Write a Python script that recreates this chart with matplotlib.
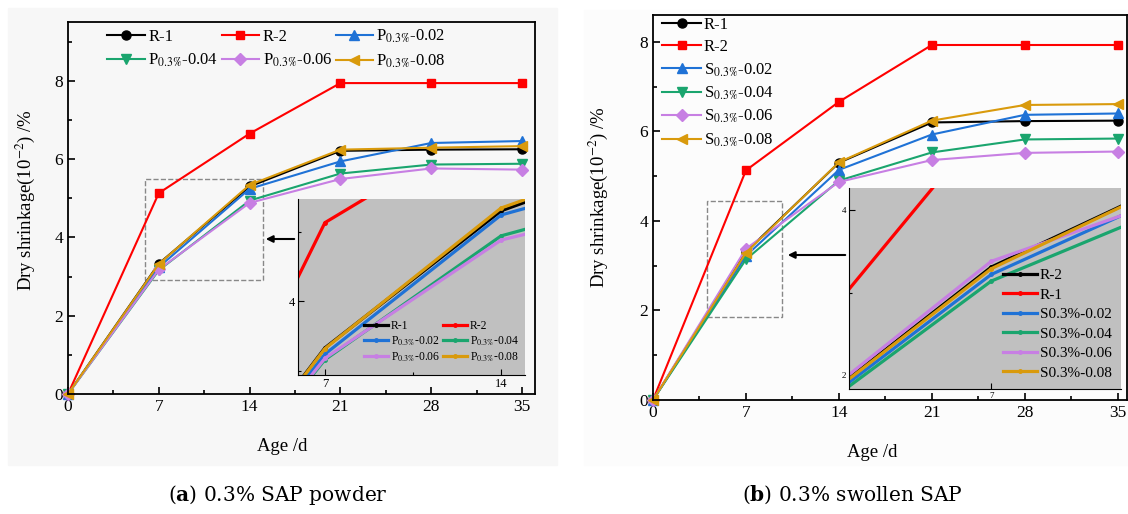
import matplotlib
matplotlib.use("Agg")
import matplotlib.pyplot as plt
from matplotlib.patches import Rectangle, FancyArrowPatch
from matplotlib.ticker import MultipleLocator

plt.rcParams['font.family'] = ['Liberation Serif', 'DejaVu Serif']
plt.rcParams['mathtext.fontset'] = 'stix'

# ---- data ----
age = [0, 7, 14, 21, 28, 35]

# (a) 0.3% SAP powder
r1_a = [0, 3.33, 5.30, 6.21, 6.24, 6.25]
r2_a = [0, 5.13, 6.65, 7.94, 7.94, 7.94]
p002 = [0, 3.24, 5.24, 5.94, 6.41, 6.46]
p004 = [0, 3.16, 4.94, 5.63, 5.86, 5.88]
p006 = [0, 3.18, 4.88, 5.49, 5.76, 5.73]
p008 = [0, 3.32, 5.34, 6.24, 6.29, 6.33]

# (b) 0.3% swollen SAP
r1_b = [0, 3.31, 5.30, 6.20, 6.23, 6.24]
r2_b = [0, 5.13, 6.66, 7.93, 7.93, 7.93]
s002 = [0, 3.22, 5.14, 5.93, 6.37, 6.40]
s004 = [0, 3.14, 4.90, 5.53, 5.82, 5.84]
s006 = [0, 3.38, 4.87, 5.36, 5.52, 5.55]
s008 = [0, 3.29, 5.31, 6.24, 6.59, 6.61]

colors = ['black', '#ff0000', '#1f72d6', '#1aa56e', '#c77fe3', '#d99a0c']
markers = ['o', 's', '^', 'v', 'D', '<']
msizes = [6.5, 6, 7, 7, 6, 7]

labels_a = ['R-1', 'R-2', r'P$_{0.3\%}$-0.02', r'P$_{0.3\%}$-0.04',
            r'P$_{0.3\%}$-0.06', r'P$_{0.3\%}$-0.08']
labels_b = ['R-1', 'R-2', r'S$_{0.3\%}$-0.02', r'S$_{0.3\%}$-0.04',
            r'S$_{0.3\%}$-0.06', r'S$_{0.3\%}$-0.08']
# inset (b) legend uses swapped R labels and plain text
labels_b_inset = ['R-2', 'R-1', 'S0.3%-0.02', 'S0.3%-0.04', 'S0.3%-0.06', 'S0.3%-0.08']

series_a = [r1_a, r2_a, p002, p004, p006, p008]
series_b = [r1_b, r2_b, s002, s004, s006, s008]

W, H = 1128, 514
fig = plt.figure(figsize=(W / 100, H / 100), dpi=100)

# panel backgrounds
fig.patches.append(Rectangle((8 / W, 1 - 465 / H), 549 / W, 457 / H,
                             transform=fig.transFigure, color='#f7f7f7', zorder=-10))
fig.patches.append(Rectangle((584 / W, 1 - 465 / H), 544 / W, 455 / H,
                             transform=fig.transFigure, color='#fcfcfc', zorder=-10))


def style_main(ax, ymax):
    ax.set_facecolor('none')
    ax.set_xlim(0, 36)
    ax.set_ylim(0, ymax)
    ax.xaxis.set_major_locator(MultipleLocator(7))
    ax.xaxis.set_minor_locator(MultipleLocator(3.5))
    ax.yaxis.set_major_locator(MultipleLocator(2))
    ax.yaxis.set_minor_locator(MultipleLocator(1))
    ax.tick_params(which='both', direction='in', labelsize=12.5, width=1.2)
    ax.tick_params(which='major', length=5)
    ax.tick_params(which='minor', length=3)
    for s in ax.spines.values():
        s.set_linewidth(1.3)
    ax.set_xlabel('Age /d', fontsize=13.5)
    ax.set_ylabel(r'Dry shrinkage(10$^{-2}$) /%', fontsize=13.5)


def style_inset(ax, xlim, ylim, tsize):
    ax.set_facecolor('#c0c0c0')
    ax.set_xlim(*xlim)
    ax.set_ylim(*ylim)
    ax.xaxis.set_major_locator(MultipleLocator(7))
    ax.xaxis.set_minor_locator(MultipleLocator(3.5))
    ax.yaxis.set_major_locator(MultipleLocator(2))
    ax.yaxis.set_minor_locator(MultipleLocator(1))
    ax.tick_params(which='both', direction='in', labelsize=tsize, width=0.8, pad=2)
    ax.tick_params(which='major', length=4)
    ax.tick_params(which='minor', length=2.5)
    ax.spines['top'].set_visible(False)
    ax.spines['right'].set_visible(False)
    for s in ['left', 'bottom']:
        ax.spines[s].set_linewidth(0.8)


# ================= (a) =================
ax1 = fig.add_axes([68 / W, 1 - 394 / H, 467 / W, 372 / H])
style_main(ax1, 9.5)
lines = []
for y, c, m, ms, lab in zip(series_a, colors, markers, msizes, labels_a):
    ln, = ax1.plot(age, y, color=c, marker=m, ms=ms, lw=1.5, label=lab, clip_on=False)
    lines.append(ln)
order = [0, 3, 1, 4, 2, 5]
ax1.legend([lines[i] for i in order], [labels_a[i] for i in order], ncol=3,
           loc='upper center', bbox_to_anchor=(0.447, 1.012), frameon=False,
           fontsize=12, handlelength=2.25, columnspacing=0.2, handletextpad=0.2,
           labelspacing=0.45, borderaxespad=0.2)
ax1.add_patch(Rectangle((5.9, 2.9), 9.1, 2.6, fill=False, ls='--', lw=1,
                        ec='#888888'))
ax1.xaxis.set_label_coords(0.458, -0.118)
ax1.yaxis.set_label_coords(-0.066, 0.52)

ins1 = fig.add_axes([298 / W, 1 - 375 / H, 227 / W, 176 / H])
style_inset(ins1, (5.93, 14.95), (2.94, 5.47), 9)
il = []
for y, c, lab in zip(series_a, colors, labels_a):
    ln, = ins1.plot(age, y, color=c, marker='o', ms=2.5, lw=2.3, label=lab)
    il.append(ln)
order_i = [0, 2, 4, 1, 3, 5]
ins1.legend([il[i] for i in order_i], [labels_a[i] for i in order_i], ncol=2,
            loc='lower right', bbox_to_anchor=(1.0, 0.03), frameon=False,
            fontsize=8.4, handlelength=2.1, columnspacing=0.25, handletextpad=0.2,
            labelspacing=0.2, borderaxespad=0.1)
fig.add_artist(FancyArrowPatch(
    (297 / W, 1 - 239 / H), (263 / W, 1 - 239 / H), transform=fig.transFigure,
    arrowstyle='-|>', mutation_scale=10, color='black', lw=1.5))

# ================= (b) =================
ax2 = fig.add_axes([653 / W, 1 - 400 / H, 474 / W, 385 / H])
style_main(ax2, 8.6)
ax2.set_xlim(0, 35.7)
lines = []
for y, c, m, ms, lab in zip(series_b, colors, markers, msizes, labels_b):
    ln, = ax2.plot(age, y, color=c, marker=m, ms=ms, lw=1.5, label=lab, clip_on=False)
    lines.append(ln)
ax2.legend(loc='upper left', bbox_to_anchor=(0.0, 1.018), frameon=False,
           fontsize=12, handlelength=2.35, handletextpad=0.15,
           labelspacing=0.36, borderaxespad=0.15)
ax2.add_patch(Rectangle((4.1, 1.86), 5.65, 2.58, fill=False, ls='--', lw=1,
                        ec='#888888'))
ax2.xaxis.set_label_coords(0.462, -0.115)
ax2.yaxis.set_label_coords(-0.09, 0.527)

ins2 = fig.add_axes([849 / W, 1 - 389 / H, 272 / W, 201 / H])
style_inset(ins2, (4.15, 9.6), (1.83, 4.27), 6.5)
il = []
for y, c in zip(series_b, colors):
    ln, = ins2.plot(age, y, color=c, marker='o', ms=2.5, lw=2.3)
    il.append(ln)
ins2.legend(il, labels_b_inset, loc='lower right', bbox_to_anchor=(1.0, 0.0),
            frameon=False, fontsize=11, handlelength=2.2, handletextpad=0.2,
            labelspacing=0.38, borderaxespad=0.2)
fig.add_artist(FancyArrowPatch(
    (848 / W, 1 - 255 / H), (785 / W, 1 - 255 / H), transform=fig.transFigure,
    arrowstyle='-|>', mutation_scale=10, color='black', lw=1.5))

# captions
fig.text(278 / W, 1 - 495 / H, r'($\mathbf{a}$) 0.3% SAP powder', ha='center',
         va='center', fontsize=14.5, family='DejaVu Serif',
         math_fontfamily='dejavuserif')
fig.text(852 / W, 1 - 495 / H, r'($\mathbf{b}$) 0.3% swollen SAP', ha='center',
         va='center', fontsize=14.5, family='DejaVu Serif',
         math_fontfamily='dejavuserif')

fig.savefig('out.png', dpi=100)
